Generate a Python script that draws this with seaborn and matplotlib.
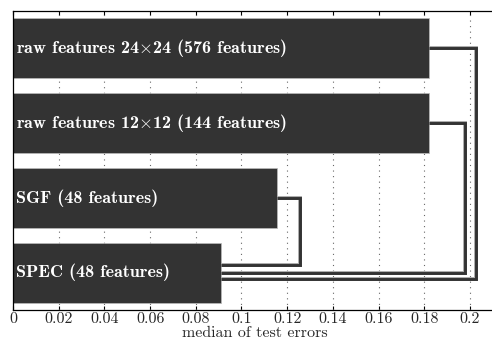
import matplotlib
matplotlib.use("Agg")
import matplotlib.pyplot as plt
import matplotlib.patheffects as pe
import seaborn as sns
import numpy as np
import pandas as pd

labels = [r"raw features 24$\times$24 (576 features)",
          r"raw features 12$\times$12 (144 features)",
          "SGF (48 features)",
          "SPEC (48 features)"]
values = [0.1822, 0.1822, 0.1155, 0.0910]
# dendrogram merges: (upper bar index, lower bar index, merge height, offset at lower bar)
merge_upper = [2, 1, 0]
merge_lower = [3, 3, 3]
merge_height = [0.1258, 0.1977, 0.2026]
merge_offset = [-0.1, 0.0, 0.09]
xticks = [0, 0.02, 0.04, 0.06, 0.08, 0.1, 0.12, 0.14, 0.16, 0.18, 0.2]
xticklabels = ["0", "0.02", "0.04", "0.06", "0.08", "0.1", "0.12", "0.14", "0.16", "0.18", "0.2"]

sns.set_theme(style="white")
plt.rcParams["font.family"] = ["cmr10", "DejaVu Serif"]
plt.rcParams["mathtext.fontset"] = "cm"
plt.rcParams["axes.formatter.use_mathtext"] = True

fig = plt.figure(figsize=(4.92, 3.43), dpi=100)
ax = fig.add_axes([13 / 492, 1 - 310 / 343, 1 - 13 / 492 + 0.01, 299 / 343])

df = pd.DataFrame({"label": labels, "value": values})
sns.barplot(data=df, x="value", y="label", color="#333333", saturation=1,
            width=0.8, ax=ax, zorder=2, edgecolor="#bbbbbb", linewidth=0.5)

ax.set_xlim(0, (492 - 13) / 2305 + 0.004)
ax.set_ylim(3.5, -0.5)
ax.set_xticks(xticks)
ax.set_xticklabels(xticklabels, fontsize=11.5)
ax.set_yticks([])
ax.set_ylabel("")
ax.set_xlabel("median of test errors", fontsize=11.5, labelpad=-0.5)
ax.tick_params(axis="x", direction="in", top=True, bottom=True, length=3,
               width=0.8, color="black", pad=2)
for s in ax.spines.values():
    s.set_color("black")
    s.set_linewidth(0.9)
ax.spines["right"].set_visible(False)

for x in xticks[1:]:
    ax.axvline(x, color="#666666", linestyle=(0, (1, 4)), linewidth=0.8, zorder=1)

for i, lab in enumerate(labels):
    ax.text(0.0013, i, lab, color="white", fontsize=13, va="center", ha="left",
            family=["cmb10", "DejaVu Serif"], zorder=3)

effects = [pe.Stroke(linewidth=2.8, foreground="#aaaaaa"), pe.Normal()]
for u, l, h, off in zip(merge_upper, merge_lower, merge_height, merge_offset):
    xs = [values[u], h, h, values[l]]
    ys = [u, u, l + off, l + off]
    ax.plot(xs, ys, color="#333333", linewidth=2.1, zorder=4,
            solid_joinstyle="miter", solid_capstyle="butt", path_effects=effects)

fig.savefig("out.png", dpi=100)
